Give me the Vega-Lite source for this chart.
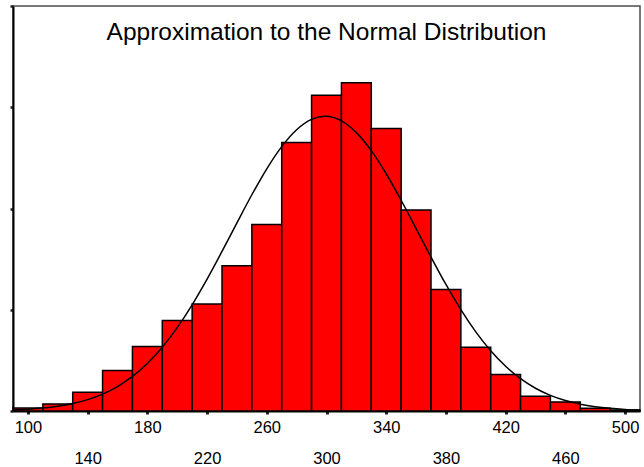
{
  "$schema": "https://vega.github.io/schema/vega-lite/v6.json",
  "width": 627,
  "height": 405,
  "autosize": {"type": "none"},
  "padding": {"left": 13, "top": 6, "right": 4, "bottom": 56},
  "background": "white",
  "config": {
    "view": {"stroke": "#4d4d4d", "strokeWidth": 1.5},
    "font": "Liberation Sans"
  },
  "datasets": {
    "bins": [
      {"bin_start": 90, "bin_end": 110, "count": 3},
      {"bin_start": 110, "bin_end": 130, "count": 7},
      {"bin_start": 130, "bin_end": 150, "count": 18.5},
      {"bin_start": 150, "bin_end": 170, "count": 40},
      {"bin_start": 170, "bin_end": 190, "count": 63.6},
      {"bin_start": 190, "bin_end": 210, "count": 89.3},
      {"bin_start": 210, "bin_end": 230, "count": 105.7},
      {"bin_start": 230, "bin_end": 250, "count": 143.5},
      {"bin_start": 250, "bin_end": 270, "count": 184.3},
      {"bin_start": 270, "bin_end": 290, "count": 265.2},
      {"bin_start": 290, "bin_end": 310, "count": 311.9},
      {"bin_start": 310, "bin_end": 330, "count": 324.3},
      {"bin_start": 330, "bin_end": 350, "count": 279},
      {"bin_start": 350, "bin_end": 370, "count": 198.5},
      {"bin_start": 370, "bin_end": 390, "count": 120.1},
      {"bin_start": 390, "bin_end": 410, "count": 62.9},
      {"bin_start": 410, "bin_end": 430, "count": 36},
      {"bin_start": 430, "bin_end": 450, "count": 14.6},
      {"bin_start": 450, "bin_end": 470, "count": 9},
      {"bin_start": 470, "bin_end": 490, "count": 2.8},
      {"bin_start": 490, "bin_end": 510, "count": 1}
    ],
    "curve": [
      {"x": 90, "y": 1.05}, {"x": 100, "y": 1.77}, {"x": 110, "y": 2.92},
      {"x": 120, "y": 4.69}, {"x": 130, "y": 7.35}, {"x": 140, "y": 11.21},
      {"x": 150, "y": 16.67}, {"x": 160, "y": 24.15}, {"x": 170, "y": 34.11},
      {"x": 180, "y": 46.95}, {"x": 190, "y": 62.98}, {"x": 200, "y": 82.33},
      {"x": 210, "y": 104.89}, {"x": 220, "y": 130.23}, {"x": 230, "y": 157.59},
      {"x": 240, "y": 185.84}, {"x": 250, "y": 213.59}, {"x": 260, "y": 239.23},
      {"x": 270, "y": 261.12}, {"x": 280, "y": 277.77}, {"x": 290, "y": 287.98},
      {"x": 299, "y": 291}, {"x": 310, "y": 286.5}, {"x": 320, "y": 274.93},
      {"x": 330, "y": 257.12}, {"x": 340, "y": 234.33}, {"x": 350, "y": 208.14},
      {"x": 360, "y": 180.18}, {"x": 370, "y": 152.0}, {"x": 380, "y": 124.97},
      {"x": 390, "y": 100.14}, {"x": 400, "y": 78.19}, {"x": 410, "y": 59.51},
      {"x": 420, "y": 44.13}, {"x": 430, "y": 31.9}, {"x": 440, "y": 22.47},
      {"x": 450, "y": 15.43}, {"x": 460, "y": 10.32}, {"x": 470, "y": 6.73},
      {"x": 480, "y": 4.28}, {"x": 490, "y": 2.65}, {"x": 500, "y": 1.6},
      {"x": 510, "y": 0.94}
    ],
    "titleRow": [
      {"title": "Approximation to the Normal Distribution"}
    ]
  },
  "layer": [
    {
      "data": {"name": "bins"},
      "mark": {"type": "bar", "fill": "#ff0000", "stroke": "#000000", "strokeWidth": 1.5},
      "encoding": {
        "x": {
          "field": "bin_start",
          "type": "quantitative",
          "scale": {"domain": [90, 510], "nice": false, "zero": false},
          "axis": {
            "title": null,
            "values": [100, 140, 180, 220, 260, 300, 340, 380, 420, 460, 500],
            "grid": false,
            "domainColor": "#000000",
            "domainWidth": 2,
            "tickColor": "#222222",
            "tickSize": 3,
            "tickWidth": 3,
            "labelFont": "Liberation Sans",
            "labelFontSize": 16.5,
            "labelColor": "#000000",
            "labelPadding": 5,
            "labelOverlap": false,
            "labelFlush": false,
            "labelLineHeight": 31,
            "labelExpr": "datum.value % 80 == 60 ? ['', datum.label] : datum.label"
          }
        },
        "x2": {"field": "bin_end"},
        "y": {
          "field": "count",
          "type": "quantitative",
          "scale": {"domain": [0, 400], "nice": false},
          "axis": {
            "title": null,
            "values": [0, 100, 200, 300, 400],
            "labels": false,
            "grid": false,
            "domainColor": "#000000",
            "domainWidth": 2,
            "tickColor": "#222222",
            "tickSize": 3,
            "tickWidth": 2.5
          }
        },
        "y2": {"datum": 0}
      }
    },
    {
      "data": {"name": "curve"},
      "mark": {"type": "line", "color": "#000000", "strokeWidth": 1.5, "interpolate": "monotone"},
      "encoding": {
        "x": {"field": "x", "type": "quantitative"},
        "y": {"field": "y", "type": "quantitative"}
      }
    },
    {
      "data": {"name": "titleRow"},
      "mark": {
        "type": "text",
        "font": "Liberation Sans",
        "fontSize": 24.5,
        "color": "#000000",
        "align": "center",
        "baseline": "alphabetic"
      },
      "encoding": {
        "text": {"field": "title", "type": "nominal"},
        "x": {"datum": 300, "type": "quantitative"},
        "y": {"datum": 366, "type": "quantitative"}
      }
    }
  ]
}
